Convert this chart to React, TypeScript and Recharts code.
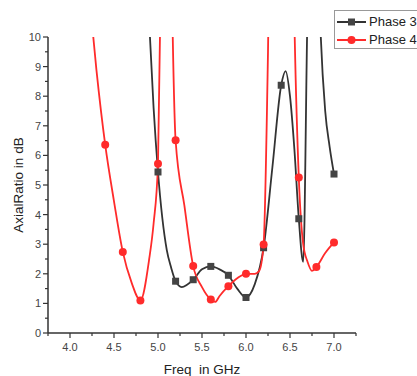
import React from "react";
import { LineChart, Line, XAxis, YAxis, Legend } from "recharts";

const phase3Freq = [4.85, 4.9, 4.95, 5.0, 5.1, 5.15, 5.2, 5.27, 5.4, 5.5, 5.6, 5.7, 5.8, 5.9, 6.0, 6.1, 6.2, 6.3, 6.4, 6.45, 6.5, 6.55, 6.6, 6.65, 6.7, 6.75, 6.8, 6.85, 6.9, 6.95, 7.0];
const phase3Values = [14, 10.5, 7.6, 5.44, 2.8, 2.2, 1.75, 1.55, 1.8, 2.15, 2.25, 2.15, 1.95, 1.5, 1.2, 1.65, 2.88, 5.6, 8.37, 8.85, 8.0, 6.2, 3.86, 2.4, 11, 15, 15, 10, 7.5, 6.3, 5.37];

const phase4Freq = [4.2, 4.3, 4.4, 4.5, 4.6, 4.7, 4.8, 4.9, 4.95, 5.0, 5.05, 5.1, 5.15, 5.2, 5.3, 5.4, 5.5, 5.6, 5.65, 5.7, 5.8, 5.9, 6.0, 6.1, 6.15, 6.2, 6.25, 6.3, 6.4, 6.5, 6.55, 6.6, 6.65, 6.7, 6.75, 6.8, 6.9, 7.0];
const phase4Values = [12, 8.9, 6.36, 4.45, 2.74, 1.7, 1.1, 2.5, 3.7, 5.72, 16, 25, 13, 6.51, 4.3, 2.26, 1.55, 1.13, 1.05, 1.25, 1.58, 1.85, 2.0, 2.0, 2.1, 2.99, 9.5, 20, 25, 20, 10.5, 5.25, 3.0, 2.4, 2.1, 2.23, 2.7, 3.06];

const xTicks = [3.75, 4.0, 4.25, 4.5, 4.75, 5.0, 5.25, 5.5, 5.75, 6.0, 6.25, 6.5, 6.75, 7.0, 7.25];
const yTicks = [0, 0.5, 1, 1.5, 2, 2.5, 3, 3.5, 4, 4.5, 5, 5.5, 6, 6.5, 7, 7.5, 8, 8.5, 9, 9.5, 10];

const phase3 = phase3Freq.map((f, i) => ({ freq: f, value: phase3Values[i] }));
const phase4 = phase4Freq.map((f, i) => ({ freq: f, value: phase4Values[i] }));

const BLACK = "#333333";
const RED = "#ff2b2b";
const FONT = "'Liberation Sans', Arial, sans-serif";

const onMarkerStep = (f: number) => Math.abs(f * 5 - Math.round(f * 5)) < 1e-6;

const SquareDot = (props: any) => {
  const { cx, cy, payload } = props;
  if (!onMarkerStep(payload.freq) || payload.value > 10) return null;
  return <rect x={cx - 3.5} y={cy - 3.5} width={7} height={7} fill="#444" />;
};

const CircleDot = (props: any) => {
  const { cx, cy, payload } = props;
  if (!onMarkerStep(payload.freq) || payload.value > 10) return null;
  return <circle cx={cx} cy={cy} r={4} fill={RED} />;
};

const YTick = (props: any) => {
  const { x, y, payload } = props;
  const major = Number.isInteger(payload.value);
  return (
    <g>
      <line x1={x} x2={x - (major ? 5 : 3)} y1={y} y2={y} stroke={BLACK} strokeWidth={1.2} />
      {major && (
        <text x={x - 7} y={y + 4} textAnchor="end" fontSize={11} fill="#444" fontFamily={FONT}>
          {payload.value}
        </text>
      )}
    </g>
  );
};

const XTick = (props: any) => {
  const { x, y, payload } = props;
  const major = Number.isInteger(payload.value * 2);
  return (
    <g>
      <line x1={x} x2={x} y1={y} y2={y + (major ? 5 : 3)} stroke={BLACK} strokeWidth={1.2} />
      {major && (
        <text x={x} y={y + 18} textAnchor="middle" fontSize={11} fill="#444" fontFamily={FONT}>
          {payload.value.toFixed(1)}
        </text>
      )}
    </g>
  );
};

const LegendBox = () => (
  <div
    style={{
      position: "absolute",
      left: 334,
      top: 10,
      width: 100,
      height: 37,
      border: "1px solid #999",
      background: "#fff",
      fontFamily: FONT,
      fontSize: 13,
      color: "#222",
    }}
  >
    {[
      { name: "Phase 3", color: BLACK, square: true },
      { name: "Phase 4", color: RED, square: false },
    ].map((s, i) => (
      <div key={s.name} style={{ position: "absolute", left: 0, top: 2 + i * 18, height: 17, display: "flex", alignItems: "center" }}>
        <svg width={34} height={10}>
          <line x1={2} x2={31} y1={5} y2={5} stroke={s.color} strokeWidth={2} />
          {s.square ? <rect x={13} y={1.5} width={7} height={7} fill="#444" /> : <circle cx={16.5} cy={5} r={4} fill={s.color} />}
        </svg>
        <span style={{ whiteSpace: "nowrap" }}>{s.name}</span>
      </div>
    ))}
  </div>
);

export default function App() {
  return (
    <div style={{ position: "absolute", left: 0, top: 0, width: 417, height: 376, background: "#fff", overflow: "hidden" }}>
      <LineChart width={417} height={376} margin={{ top: 37, right: 61, bottom: 13, left: 8 }}>
        <XAxis
          type="number"
          dataKey="freq"
          domain={[3.75, 7.25]}
          ticks={xTicks}
          interval={0}
          allowDataOverflow
          tickSize={0}
          tickMargin={0}
          tickLine={false}
          tick={<XTick />}
          axisLine={{ stroke: BLACK, strokeWidth: 1.5 }}
          height={30}
        />
        <YAxis
          type="number"
          domain={[0, 10]}
          ticks={yTicks}
          interval={0}
          allowDataOverflow
          tickSize={0}
          tickMargin={0}
          tickLine={false}
          tick={<YTick />}
          axisLine={{ stroke: BLACK, strokeWidth: 1.5 }}
          width={40}
        />
        <Line
          data={phase3}
          dataKey="value"
          type="monotone"
          stroke={BLACK}
          strokeWidth={1.8}
          dot={<SquareDot />}
          activeDot={false}
          isAnimationActive={false}
        />
        <Line
          data={phase4}
          dataKey="value"
          type="monotone"
          stroke={RED}
          strokeWidth={1.8}
          dot={<CircleDot />}
          activeDot={false}
          isAnimationActive={false}
        />
      </LineChart>
      <div
        style={{
          position: "absolute",
          left: 18,
          top: 185,
          transform: "translate(-50%, -50%) rotate(-90deg)",
          fontFamily: FONT,
          fontSize: 13.5,
          color: "#222",
          whiteSpace: "nowrap",
        }}
      >
        AxialRatio in dB
      </div>
      <div
        style={{
          position: "absolute",
          left: 202,
          top: 369,
          transform: "translate(-50%, -50%)",
          fontFamily: FONT,
          fontSize: 13.5,
          color: "#222",
          whiteSpace: "pre",
        }}
      >
        Freq  in GHz
      </div>
      <LegendBox />
    </div>
  );
}
